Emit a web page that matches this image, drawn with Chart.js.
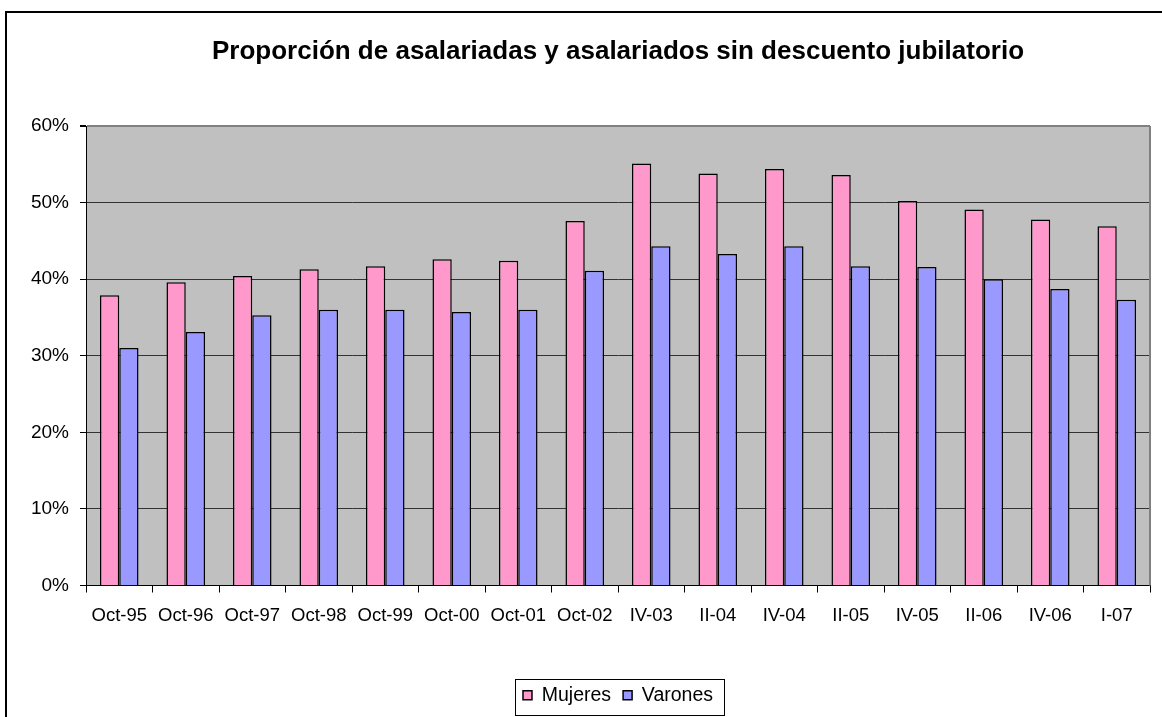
<!DOCTYPE html>
<html>
<head>
<meta charset="utf-8">
<script src="https://cdn.jsdelivr.net/npm/chart.js@4/dist/chart.umd.min.js"></script>
<style>
  html, body { margin: 0; padding: 0; background: #ffffff; }
  #wrap { width: 1162px; height: 717px; position: relative; }
</style>
</head>
<body>
<div id="wrap"><canvas id="c" width="1162" height="717"></canvas></div>
<script>
const categories = ["Oct-95","Oct-96","Oct-97","Oct-98","Oct-99","Oct-00","Oct-01","Oct-02","IV-03","II-04","IV-04","II-05","IV-05","II-06","IV-06","I-07"];
const mujeres = [37.9, 39.6, 40.4, 41.3, 41.7, 42.6, 42.4, 47.6, 55.1, 53.8, 54.4, 53.6, 50.2, 49.1, 47.8, 46.9];
const varones = [31.0, 33.1, 35.3, 36.0, 36.0, 35.7, 36.0, 41.1, 44.3, 43.3, 44.3, 41.7, 41.6, 40.0, 38.7, 37.3];
const seriesNames = ["Mujeres", "Varones"];
const titleText = "Proporción de asalariadas y asalariados sin descuento jubilatorio";
const yMin = 0, yMax = 60, yStep = 10;

const FONT = "'Liberation Sans', Arial, sans-serif";

const decor = {
  id: 'decor',
  beforeDraw(chart) {
    const {ctx, chartArea: a} = chart;
    ctx.save();
    ctx.fillStyle = '#ffffff';
    ctx.fillRect(0, 0, chart.width, chart.height);
    ctx.fillStyle = '#C0C0C0';
    ctx.fillRect(a.left, a.top, a.right - a.left, a.bottom - a.top);
    ctx.restore();
  },
  afterDraw(chart) {
    const {ctx, chartArea: a} = chart;
    ctx.save();
    ctx.strokeStyle = '#808080';
    ctx.lineWidth = 2;
    ctx.beginPath();
    ctx.moveTo(a.right, a.top);
    ctx.lineTo(a.right, a.bottom);
    ctx.stroke();
    ctx.strokeStyle = '#000000';
    ctx.lineWidth = 2;
    ctx.strokeRect(6, 12, chart.width + 10, chart.height + 10);
    const hb = chart.legend && chart.legend.legendHitBoxes;
    if (hb && hb.length) {
      let l = Infinity, r = -Infinity;
      hb.forEach(h => { l = Math.min(l, h.left); r = Math.max(r, h.left + h.width); });
      const cy = hb[0].top + hb[0].height / 2;
      ctx.strokeStyle = '#000000';
      ctx.lineWidth = 1;
      ctx.strokeRect(Math.round(l - 8) + 0.5, Math.round(cy - 16) + 0.5, Math.round(r - l + 19), 36);
    }
    ctx.restore();
  }
};

new Chart(document.getElementById('c'), {
  type: 'bar',
  data: {
    labels: categories,
    datasets: [
      { label: seriesNames[0], data: mujeres, backgroundColor: '#FF99CC', borderColor: '#000000', borderWidth: 1.5 },
      { label: seriesNames[1], data: varones, backgroundColor: '#9999FF', borderColor: '#000000', borderWidth: 1.5 }
    ]
  },
  options: {
    responsive: false,
    animation: false,
    devicePixelRatio: 1,
    layout: { padding: { left: 0, right: 12, top: 0, bottom: 2 } },
    datasets: { bar: { categoryPercentage: 0.58, barPercentage: 1.0 } },
    plugins: {
      title: {
        display: true,
        text: titleText,
        fullSize: false,
        color: '#000000',
        font: { family: FONT, size: 26, weight: 'bold', lineHeight: 1.2 },
        padding: { top: 36, bottom: 58.8 }
      },
      legend: {
        display: true,
        position: 'bottom',
        fullSize: false,
        labels: {
          color: '#000000',
          font: { family: FONT, size: 19.5 },
          boxWidth: 9,
          boxHeight: 9,
          padding: 12
        }
      },
      tooltip: { enabled: false }
    },
    scales: {
      x: {
        offset: true,
        grid: { display: true, drawOnChartArea: false, drawTicks: true, tickLength: 7, tickColor: '#000000', offset: true },
        border: { display: true, color: '#000000', width: 1 },
        ticks: { color: '#000000', font: { family: FONT, size: 18.5 }, padding: 12, maxRotation: 0, autoSkip: false },
        afterFit(scale) { scale.height = 88; }
      },
      y: {
        min: yMin,
        max: yMax,
        grid: {
          display: true,
          drawTicks: true,
          tickLength: 6,
          tickColor: '#000000',
          color: ctx => (ctx.tick && ctx.tick.value === yMax) ? '#808080' : '#333333',
          lineWidth: ctx => (ctx.tick && ctx.tick.value === yMax) ? 2 : 1
        },
        border: { display: true, color: '#000000', width: 1 },
        ticks: {
          stepSize: yStep,
          color: '#000000',
          font: { family: FONT, size: 19 },
          padding: 11,
          callback: v => v + '%'
        },
        afterFit(scale) { scale.width = 86; }
      }
    }
  },
  plugins: [decor]
});
</script>
</body>
</html>
